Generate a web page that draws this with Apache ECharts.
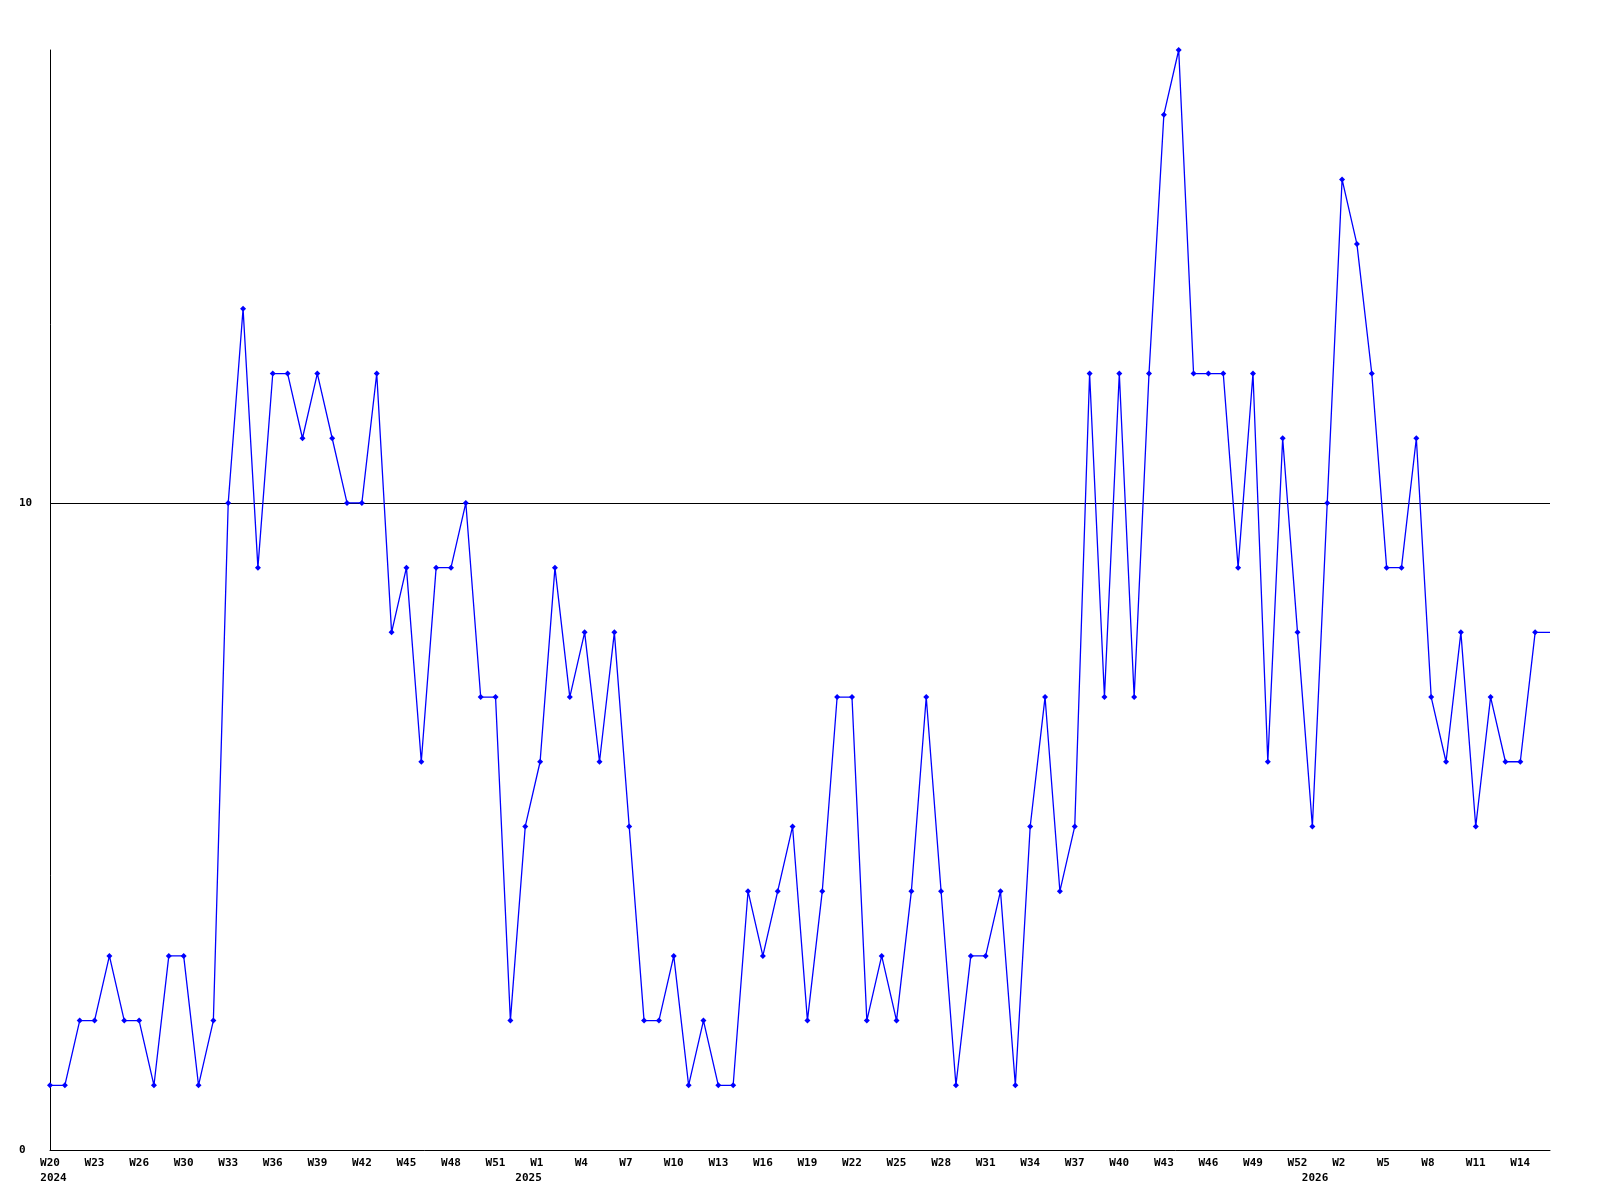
<!DOCTYPE html>
<html>
<head>
<meta charset="utf-8">
<script src="https://cdn.jsdelivr.net/npm/echarts@6/dist/echarts.min.js"></script>
<style>
  html, body { margin: 0; padding: 0; background: #ffffff; }
  #chart { width: 1600px; height: 1200px; }
</style>
</head>
<body>
<div id="chart"></div>
<script>
// Weekly values, one per week starting W20 2024 (last entry is the open edge sample)
const values = [
  1, 1, 2, 2, 3, 2, 2, 1, 3, 3, 1, 2,
  10, 13, 9, 12, 12, 11, 12, 11, 10, 10, 12, 8, 9, 6, 9, 9, 10, 7, 7,
  2, 5, 6, 9, 7, 8, 6, 8, 5, 2, 2, 3, 1, 2, 1, 1, 4, 3, 4, 5, 2, 4,
  7, 7, 2, 3, 2, 4, 7, 4, 1, 3, 3, 4, 1, 5, 7, 4, 5,
  12, 7, 12, 7, 12, 16, 17, 12, 12, 12, 9, 12, 6, 11, 8, 5, 10, 15, 14,
  12, 9, 9, 11, 7, 6, 8, 5, 7, 6, 6, 8, 8
];

// Tick labels, one every 3 weeks
const tickLabels = [
  'W20', 'W23', 'W26', 'W30', 'W33', 'W36', 'W39', 'W42', 'W45', 'W48', 'W51',
  'W1', 'W4', 'W7', 'W10', 'W13', 'W16', 'W19', 'W22', 'W25', 'W28', 'W31',
  'W34', 'W37', 'W40', 'W43', 'W46', 'W49', 'W52', 'W2', 'W5', 'W8', 'W11', 'W14'
];
const yearLabels = {0: '2024', 11: '2025', 29: '2026'};

const yTickLabels = ['0', '10'];

const seriesData = values.map((v, i) => {
  if (i === values.length - 1) return { value: [i, v], symbol: 'none' };
  return [i, v];
});

const chart = echarts.init(document.getElementById('chart'), null, { renderer: 'canvas' });
const font = 'DejaVu Sans Mono';

chart.setOption({
  animation: false,
  backgroundColor: '#ffffff',
  grid: { left: 50, right: 50, top: 50, bottom: 50, containLabel: false },
  xAxis: {
    type: 'value',
    min: 0,
    max: values.length - 1,
    interval: 3,
    axisLine: { show: true, lineStyle: { color: '#000000', width: 1 } },
    axisTick: { show: false },
    splitLine: { show: false },
    axisLabel: {
      show: true,
      showMaxLabel: false,
      showMinLabel: true,
      margin: 6,
      color: '#000000',
      fontFamily: font,
      fontSize: 11,
      fontWeight: 'bold',
      lineHeight: 15,
      align: 'center',
      verticalAlign: 'top',
      formatter: function (value) {
        const r = Math.round(value);
        if (Math.abs(value - r) > 1e-6 || r % 3 !== 0) return '';
        const k = r / 3;
        if (k >= tickLabels.length) return '';
        let s = '{w|' + tickLabels[k].padEnd(3, ' ') + '}';
        if (yearLabels[k]) s += '\n{y' + yearLabels[k] + '|' + yearLabels[k] + '}';
        return s;
      },
      rich: {
        w: { fontFamily: font, fontSize: 11, fontWeight: 'bold', color: '#000', lineHeight: 15 },
        y2024: { fontFamily: font, fontSize: 11, fontWeight: 'bold', color: '#000', lineHeight: 15, padding: [0, 0, 0, 7] },
        y2025: { fontFamily: font, fontSize: 11, fontWeight: 'bold', color: '#000', lineHeight: 15, padding: [0, 23, 0, 0] },
        y2026: { fontFamily: font, fontSize: 11, fontWeight: 'bold', color: '#000', lineHeight: 15, padding: [0, 54, 0, 0] }
      }
    }
  },
  yAxis: {
    type: 'value',
    min: 0,
    max: 17,
    interval: 10,
    axisLine: { show: true, lineStyle: { color: '#000000', width: 1 } },
    axisTick: { show: false },
    splitLine: {
      show: true,
      showMinLine: false,
      showMaxLine: false,
      lineStyle: { color: '#000000', width: 1, type: 'solid' }
    },
    axisLabel: {
      show: true,
      showMaxLabel: false,
      align: 'left',
      margin: 31,
      color: '#000000',
      fontFamily: font,
      fontSize: 11,
      fontWeight: 'bold',
      formatter: function (value) {
        const idx = Math.round(value / 10);
        return (value % 10 === 0 && idx < yTickLabels.length) ? yTickLabels[idx] : '';
      }
    }
  },
  series: [{
    type: 'line',
    data: seriesData,
    symbol: 'diamond',
    symbolSize: 6,
    showSymbol: true,
    showAllSymbol: true,
    lineStyle: { color: '#0000ff', width: 1.3 },
    itemStyle: { color: '#0000ff' },
    z: 3
  }]
});
</script>
</body>
</html>
